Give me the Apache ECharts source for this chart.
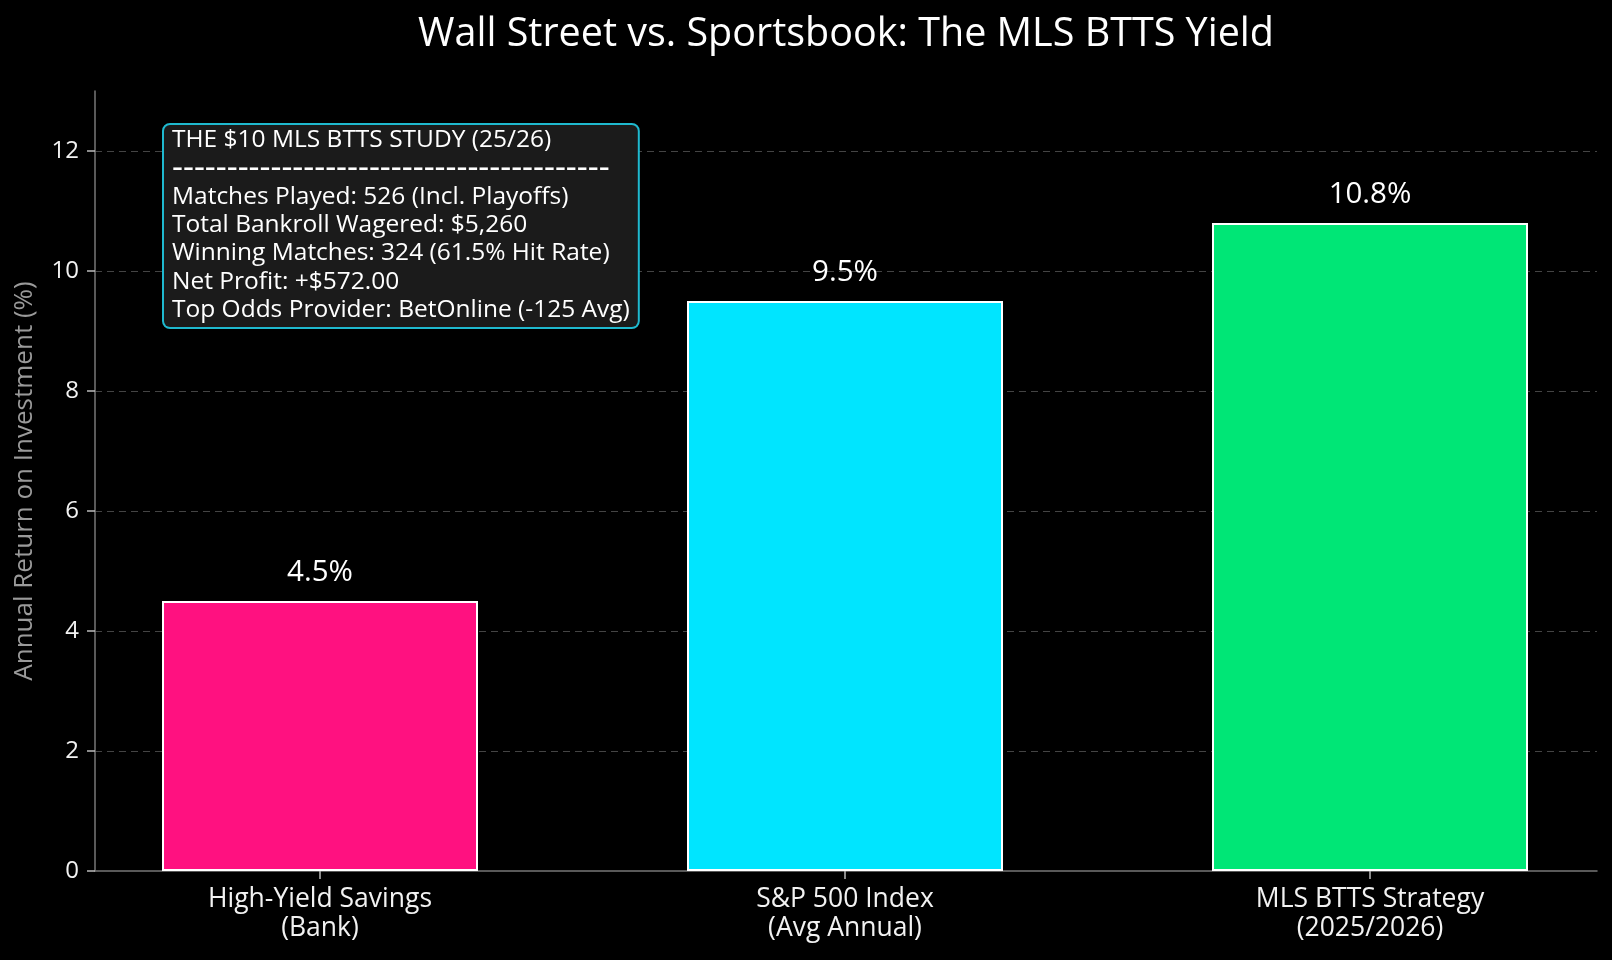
<!DOCTYPE html>
<html>
<head>
<meta charset="utf-8">
<title>Wall Street vs. Sportsbook</title>
<script src="https://cdn.jsdelivr.net/npm/echarts@6/dist/echarts.min.js"></script>
<style>
  html, body { margin: 0; padding: 0; background: #000; }
  #main { width: 1612px; height: 960px; }
</style>
</head>
<body>
<div id="main"></div>
<script>
var categories = ['High-Yield Savings\n(Bank)', 'S&P 500 Index\n(Avg Annual)', 'MLS BTTS Strategy\n(2025/2026)'];
var returns = [4.5, 9.5, 10.8];
var barColors = ['#ff1180', '#00e5ff', '#00e676'];
var yTicks = [0, 2, 4, 6, 8, 10, 12];
var studyTitle = 'THE $10 MLS BTTS STUDY (25/26)';
var studyRule = '----------------------------------------';
var studyLines = [
  'Matches Played: 526 (Incl. Playoffs)',
  'Total Bankroll Wagered: $5,260',
  'Winning Matches: 324 (61.5% Hit Rate)',
  'Net Profit: +$572.00',
  'Top Odds Provider: BetOnline (-125 Avg)'
];

var font = '"Open Sans"';
var chart = echarts.init(document.getElementById('main'));

var option = {
  backgroundColor: '#000',
  animation: false,
  textStyle: { fontFamily: font },
  grid: [
    // frame (spines)
    { left: 95, right: 15, top: 91, bottom: 89 },
    // y ticks and gridlines
    { left: 95, right: 15, top: 151, bottom: 89 },
    // bars: first and last category sit on the grid edges
    { left: 320, width: 1050, top: 151, bottom: 89 }
  ],
  xAxis: [
    {
      gridIndex: 0, type: 'value', min: 0, max: 1,
      axisLine: { show: true, lineStyle: { color: '#777', width: 1.5 } },
      axisTick: { show: false }, axisLabel: { show: false }, splitLine: { show: false }
    },
    {
      gridIndex: 1, type: 'value', min: 0, max: 1, show: false
    },
    {
      gridIndex: 2, type: 'category', data: categories, boundaryGap: false,
      axisLine: { show: false },
      axisTick: { show: true, length: 8, lineStyle: { color: '#bbb', width: 1.5 } },
      axisLabel: { color: '#f2f2f2', fontSize: 26.5, lineHeight: 29, margin: 14, fontFamily: font },
      splitLine: { show: false }
    }
  ],
  yAxis: [
    {
      gridIndex: 0, type: 'value', min: 0, max: 1,
      name: 'Annual Return on Investment (%)',
      nameLocation: 'middle',
      nameGap: 57,
      nameTextStyle: { color: '#9a9a9a', fontSize: 26, fontFamily: font },
      axisLine: { show: true, lineStyle: { color: '#777', width: 1.5 } },
      axisTick: { show: false }, axisLabel: { show: false }, splitLine: { show: false }
    },
    {
      gridIndex: 1, type: 'value',
      min: yTicks[0], max: yTicks[yTicks.length - 1], interval: 2,
      axisLine: { show: false },
      axisTick: { show: true, length: 8, lineStyle: { color: '#bbb', width: 1.5 } },
      axisLabel: { color: '#f2f2f2', fontSize: 24, margin: 16, fontFamily: font },
      splitLine: { show: true, showMinLine: false, lineStyle: { color: '#444', type: [7, 5], width: 1 } }
    },
    {
      gridIndex: 2, type: 'value', min: yTicks[0], max: yTicks[yTicks.length - 1], show: false
    }
  ],
  series: [
    {
      type: 'bar',
      xAxisIndex: 2,
      yAxisIndex: 2,
      barWidth: 316,
      data: returns.map(function (v, i) {
        return {
          value: v,
          itemStyle: { color: barColors[i], borderColor: '#fff', borderWidth: 2 }
        };
      }),
      label: {
        show: true,
        position: 'top',
        distance: 13,
        color: '#fff',
        fontSize: 29.5,
        fontFamily: font,
        formatter: function (p) { return p.value.toFixed(1) + '%'; }
      }
    }
  ],
  graphic: [
    {
      type: 'text',
      x: 846,
      y: 35,
      style: {
        text: 'Wall Street vs. Sportsbook: The MLS BTTS Yield',
        fill: '#fff',
        font: '39.5px ' + font,
        align: 'center',
        verticalAlign: 'middle'
      }
    },
    {
      type: 'text',
      left: 162,
      top: 123,
      z: 100,
      style: {
        text: '{t|' + studyTitle + '}\n{r|' + studyRule + '}\n{t|' + studyLines.join('}\n{t|') + '}',
        fill: '#fff',
        backgroundColor: '#1b1b1b',
        borderColor: '#1fb9cf',
        borderWidth: 2,
        borderRadius: 6,
        padding: [1, 8, 3, 8],
        rich: {
          t: { fontSize: 24.5, fontFamily: font, lineHeight: 28.3, fill: '#fff' },
          r: { fontSize: 34, fontFamily: font, lineHeight: 28.3, fill: '#fff' }
        }
      }
    }
  ]
};

chart.setOption(option);
</script>
</body>
</html>
